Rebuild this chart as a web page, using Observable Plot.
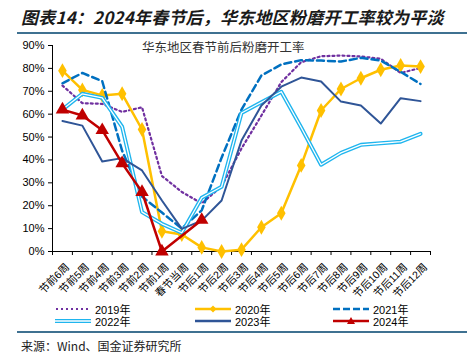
<!DOCTYPE html>
<html><head><meta charset="utf-8">
<script src="https://cdn.jsdelivr.net/npm/d3@7"></script>
<script src="https://cdn.jsdelivr.net/npm/@observablehq/plot@0.6"></script>
<style>
body{margin:0;background:#fff;}
#wrap{position:relative;width:467px;height:358px;overflow:hidden;font-family:"Liberation Sans","Noto Sans CJK SC",sans-serif;color:#000;}
#title{position:absolute;left:21px;top:4px;font-family:"Noto Sans CJK SC",sans-serif;font-size:17px;font-weight:bold;font-style:italic;white-space:nowrap;color:#1a1a1a;letter-spacing:0.2px;}
.rule{position:absolute;left:17px;width:460px;height:2px;background:#3f7191;}
#chart{position:absolute;left:0;top:0;}
#inner{position:absolute;left:142px;top:37px;font-family:"Noto Sans CJK SC",sans-serif;font-size:12.5px;color:#333;white-space:nowrap;}
.leg{position:absolute;display:flex;align-items:center;font-size:11px;white-space:nowrap;height:12px;}
.leg svg{margin-right:3px;}
#src{position:absolute;left:21px;top:337px;font-family:"Noto Sans CJK SC",sans-serif;font-size:12px;color:#222;white-space:nowrap;}
</style></head><body>
<div id="wrap">
 <div id="title">图表14：2024年春节后，华东地区粉磨开工率较为平淡</div>
 <div class="rule" style="top:32px"></div>
 <div id="chart"></div>
 <div id="inner">华东地区春节前后粉磨开工率</div>
 <div id="legend"></div>
 <div class="rule" style="top:331px"></div>
 <div id="src">来源：Wind、国金证券研究所</div>
</div>
<script>
const categories = ["节前6周","节前5周","节前4周","节前3周","节前2周","节前1周","春节当周","节后1周","节后2周","节后3周","节后4周","节后5周","节后6周","节后7周","节后8周","节后9周","节后10周","节后11周","节后12周"];
const seriesNames = ["2019年","2020年","2021年","2022年","2023年","2024年"];
const v2019 = [72.5, 64.8, 64.5, 61, 63, 33, 26, 21, 28.5, 45, 59.4, 74, 82.7, 85.3, 85.6, 85.2, 84.2, 78, 80.2];
const v2020 = [79, 70.6, 68.2, 68.9, 53.3, 8.8, 7.4, 1.8, 0, 0.8, 10.6, 16.7, 37.6, 61.6, 71, 75.7, 79.4, 81.3, 80.8];
const v2021 = [73.5, 78, 74.4, 44, 24, 17, 10, 18, 41, 62, 76.9, 81.7, 83.6, 83.4, 83, 84.6, 83.4, 78.5, 73.2];
const v2022 = [62, 68.9, 67.1, 54.5, 17.2, 12.1, 8.2, 23.5, 28.3, 60.5, 65.2, 69.8, 54.2, 37.9, 43.1, 46.6, 47.3, 48, 51.4];
const v2023 = [57, 55, 39.3, 40.8, 35.4, 22.3, 9.9, 13.5, 22.3, 48.5, 63.8, 72, 76, 74.3, 65.5, 63.8, 55.9, 67, 65.7];
const v2024 = [62, 59.4, 53, 38.5, 26, 0, null, 13.8];
const yTicks = [0, 10, 20, 30, 40, 50, 60, 70, 80, 90];

const rows = vals => vals.map((v, i) => ({i, v: v == null ? null : v / 100})).filter(d => d.v != null);
const idx = categories.map((_, i) => i);
const bounds = categories.map((_, i) => i - 0.5).concat([categories.length - 0.5]);

const C = {y2019:"#7030a0", y2020:"#ffc000", y2021:"#0070c0", y2022:"#1fb5ee", y2023:"#2f5597", y2024:"#c00000"};

const chart = Plot.plot({
  width: 467, height: 358,
  marginTop: 45, marginBottom: 107, marginLeft: 52, marginRight: 37,
  style: {fontFamily: '"Liberation Sans","Noto Sans CJK SC",sans-serif', fontSize: "11px", background: "transparent", color: "#000"},
  x: {type: "linear", domain: [-0.5, categories.length - 0.5]},
  y: {domain: [0, 0.9]},
  marks: [
    Plot.axisY({ticks: yTicks.map(t => t / 100), tickFormat: d3.format(".0%"), tickSize: 4, tickPadding: 4, label: null, fontSize: 11}),
    Plot.ruleX([-0.5], {stroke: "#000"}),
    Plot.axisX({ticks: bounds, tickSize: 4, tickFormat: () => "", label: null}),
    Plot.axisX({ticks: idx, tickSize: 0, tickFormat: i => categories[i], tickRotate: -45, textAnchor: "end", tickPadding: 6, dx: 5, dy: 8, label: null, fontSize: 10.5}),
    Plot.ruleY([0], {stroke: "#000"}),
    Plot.line(rows(v2019), {x: "i", y: "v", stroke: C.y2019, strokeWidth: 2.2, strokeDasharray: "2,3"}),
    Plot.line(rows(v2020), {x: "i", y: "v", stroke: C.y2020, strokeWidth: 2.5}),
    Plot.dot(rows(v2020), {x: "i", y: "v", fill: C.y2020, symbol: "diamond", r: 4.5}),
    Plot.line(rows(v2021), {x: "i", y: "v", stroke: C.y2021, strokeWidth: 2.5, strokeDasharray: "7,4"}),
    Plot.line(rows(v2022), {x: "i", y: "v", stroke: C.y2022, strokeWidth: 4}),
    Plot.line(rows(v2022), {x: "i", y: "v", stroke: "#fff", strokeWidth: 1.3}),
    Plot.line(rows(v2023), {x: "i", y: "v", stroke: C.y2023, strokeWidth: 2}),
    Plot.line(rows(v2024), {x: "i", y: "v", stroke: C.y2024, strokeWidth: 2.5}),
    Plot.dot(rows(v2024), {x: "i", y: "v", fill: C.y2024, symbol: "triangle", r: 5})
  ]
});
document.getElementById("chart").appendChild(chart);

// legend
const legSpecs = [
  {name: seriesNames[0], x: 55, y: 303, kind: "dot", color: C.y2019},
  {name: seriesNames[1], x: 195, y: 303, kind: "diamond", color: C.y2020},
  {name: seriesNames[2], x: 333, y: 303, kind: "dash", color: C.y2021},
  {name: seriesNames[3], x: 55, y: 315, kind: "double", color: C.y2022},
  {name: seriesNames[4], x: 195, y: 315, kind: "solid", color: C.y2023},
  {name: seriesNames[5], x: 333, y: 315, kind: "tri", color: C.y2024}
];
const leg = document.getElementById("legend");
for (const s of legSpecs) {
  const d = document.createElement("div");
  d.className = "leg";
  d.style.left = s.x + "px";
  d.style.top = s.y + "px";
  let inner = "";
  if (s.kind === "dot") inner = `<line x1="1" y1="6" x2="35" y2="6" stroke="${s.color}" stroke-width="2.2" stroke-dasharray="2,3"/>`;
  if (s.kind === "dash") inner = `<line x1="0" y1="6" x2="36" y2="6" stroke="${s.color}" stroke-width="2.5" stroke-dasharray="7,3"/>`;
  if (s.kind === "solid") inner = `<line x1="0" y1="6" x2="36" y2="6" stroke="${s.color}" stroke-width="2.5"/>`;
  if (s.kind === "double") inner = `<line x1="0" y1="6" x2="36" y2="6" stroke="${s.color}" stroke-width="4"/><line x1="0" y1="6" x2="36" y2="6" stroke="#fff" stroke-width="1.3"/>`;
  if (s.kind === "diamond") inner = `<line x1="0" y1="6" x2="36" y2="6" stroke="${s.color}" stroke-width="2.5"/><path d="M18,2.5L21.5,6L18,9.5L14.5,6Z" fill="${s.color}"/>`;
  if (s.kind === "tri") inner = `<line x1="0" y1="6" x2="36" y2="6" stroke="${s.color}" stroke-width="2.5"/><path d="M18,2L22,9L14,9Z" fill="${s.color}"/>`;
  d.innerHTML = `<svg width="37" height="12">${inner}</svg><span>${s.name}</span>`;
  leg.appendChild(d);
}
</script>
</body></html>
